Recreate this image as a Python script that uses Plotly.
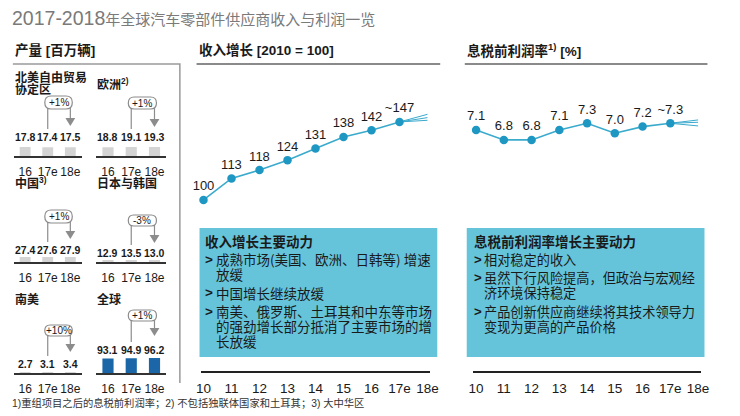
import plotly.graph_objects as go

W, H = 740, 416
def fx(x): return x / W
def fy(y): return 1 - y / H

# ---------------- data ----------------
title_digits = "2017-2018"
title_cjk = "年全球汽车零部件供应商收入与利润一览"
prod_title = "产量 [百万辆]"
prod_years = ["16", "17e", "18e"]
region_names = [["北美自由贸易", "协定区"], ["欧洲<sup>2)</sup>"], ["中国<sup>3)</sup>"],
                ["日本与韩国"], ["南美"], ["全球"]]
nafta_prod = [17.8, 17.4, 17.5]
europe_prod = [18.8, 19.1, 19.3]
china_prod = [27.4, 27.6, 27.9]
japan_korea_prod = [12.9, 13.5, 13.0]
south_america_prod = [2.7, 3.1, 3.4]
global_prod = [93.1, 94.9, 96.2]
region_growth = ["+1%", "+1%", "+1%", "-3%", "+10%", "+1%"]

years = ["10", "11", "12", "13", "14", "15", "16", "17e", "18e"]
revenue_title = "收入增长 [2010 = 100]"
revenue_index = [100, 113, 118, 124, 131, 138, 142, 147]
revenue_labels = ["100", "113", "118", "124", "131", "138", "142", "~147"]
revenue_fan_18e = [151.6, 149.6, 148.0]
ebit_title = "息税前利润率<sup>1)</sup> [%]"
ebit_margin = [7.1, 6.8, 6.8, 7.1, 7.3, 7.0, 7.2, 7.3]
ebit_labels = ["7.1", "6.8", "6.8", "7.1", "7.3", "7.0", "7.2", "~7.3"]
ebit_fan_18e = [7.40, 7.33, 7.22]

revenue_drivers_title = "收入增长主要动力"
revenue_drivers = [["成熟市场(美国、欧洲、日韩等) 增速", "放缓"],
                   ["中国增长继续放缓"],
                   ["南美、俄罗斯、土耳其和中东等市场", "的强劲增长部分抵消了主要市场的增", "长放缓"]]
ebit_drivers_title = "息税前利润率增长主要动力"
ebit_drivers = [["相对稳定的收入"],
                ["虽然下行风险提高，但政治与宏观经", "济环境保持稳定"],
                ["产品创新供应商继续将其技术领导力", "变现为更高的产品价格"]]
footnote = "1)重组项目之后的息税前利润率；2) 不包括独联体国家和土耳其；3) 大中华区"

# ---------------- styles ----------------
CJK = "Noto Sans CJK SC"
LAT = "Liberation Sans, Noto Sans CJK SC"
TXT = "#1a1a1a"
GRAY = "#8c8c8c"
LINE_C = "#3aaacd"
MARK_C = "#1f97c3"
BOX_C = "#65c4da"

fig = go.Figure()
layout = dict(width=W, height=H, margin=dict(l=0, r=0, t=0, b=0),
              paper_bgcolor="white", plot_bgcolor="rgba(0,0,0,0)", showlegend=False)
ann = []
shapes = []

def text(x, y, t, size, color=TXT, family=CJK, bold=False, xanchor="left", yanchor="middle"):
    ann.append(dict(x=fx(x), y=fy(y), xref="paper", yref="paper", text=(f"<b>{t}</b>" if bold else t),
                    showarrow=False, xanchor=xanchor, yanchor=yanchor,
                    font=dict(size=size, color=color, family=family)))

def pline(pts, color, width):
    d = "M " + " L ".join(f"{fx(a)},{fy(b)}" for a, b in pts)
    shapes.append(dict(type="path", path=d, xref="paper", yref="paper",
                       line=dict(color=color, width=width)))

# title
ann.append(dict(x=fx(5), y=fy(18), xref="paper", yref="paper", showarrow=False, xanchor="left",
                yanchor="middle",
                text=f"<span style='font-size:19.5px'>{title_digits}</span>{title_cjk}",
                font=dict(size=15, color="#7a7a7a", family=LAT)))

# production panel
text(8, 50, prod_title, 13.5, family=LAT, bold=True)
pline([(8, 64), (178, 64), (178, 383)], "#9a9a9a", 1.5)

prod_values = [nafta_prod, europe_prod, china_prod, japan_korea_prod, south_america_prod, global_prod]
# per-panel geometry (pixels): col, baseline, label y, bubble top, bubble bottom, arrow tip, bar px, colour, name y
panel_geo = [
    (0, 156, 137, 96, 109, 126, 9, "#d4d4d4", [77, 89]),
    (1, 156, 137, 97, 109, 127, 9, "#d4d4d4", [84]),
    (0, 262, 250, 210, 223, 239, 5, "#d4d4d4", [183]),
    (1, 262, 253, 215, 226, 243, 1.5, "#d4d4d4", [183]),
    (0, 373, 364, 325, 336, 352, 1, "#d4d4d4", [299]),
    (1, 373, 350, 310, 321, 336, 15, "#1a66a6", [299]),
]
for k, (vals, geo) in enumerate(zip(prod_values, panel_geo), start=1):
    col, base, lab_y, b_top, b_bot, tip, bar_px, colr, name_ys = geo
    x0, x1 = (9, 78) if col == 0 else (93, 164)
    dom_h = 25
    layout[f"xaxis{k}"] = dict(domain=[fx(x0), fx(x1)], range=[-0.5, 2.5], anchor=f"y{k}",
                               showline=True, linecolor="#333", linewidth=1.5, ticks="",
                               tickvals=[0, 1, 2], ticktext=prod_years, showgrid=False, zeroline=False,
                               ticklabelstandoff=4,
                               tickfont=dict(size=12, color=TXT, family=LAT))
    layout[f"yaxis{k}"] = dict(domain=[fy(base), fy(base - dom_h)], range=[0, max(vals) * dom_h / bar_px],
                               visible=False, anchor=f"x{k}")
    fig.add_trace(go.Bar(x=[0, 1, 2], y=vals, width=0.48, marker=dict(color=colr, line=dict(width=0)),
                         xaxis=f"x{k}", yaxis=f"y{k}", hoverinfo="skip"))
    for i, v in enumerate(vals):
        ann.append(dict(x=i, y=fy(lab_y), xref=f"x{k}", yref="paper", text=f"<b>{v:.1f}</b>",
                        showarrow=False, xanchor="center", yanchor="middle",
                        font=dict(size=10.5, color=TXT, family=LAT)))
    for j, ny in enumerate(name_ys):
        text(x0 - 1, ny, region_names[k - 1][j], 12, bold=True, family=LAT)
    # growth bubble
    step = (x1 - x0) / 3
    c1 = x0 + 1.5 * step
    c2 = x0 + 2.5 * step
    bl, br = c1 - 3, c2 + 2
    r = (b_bot - b_top) / 2
    d = (f"M {fx(bl + r)},{fy(b_top)} L {fx(br - r)},{fy(b_top)} "
         f"Q {fx(br)},{fy(b_top)} {fx(br)},{fy(b_top + r)} Q {fx(br)},{fy(b_bot)} {fx(br - r)},{fy(b_bot)} "
         f"L {fx(bl + r)},{fy(b_bot)} Q {fx(bl)},{fy(b_bot)} {fx(bl)},{fy(b_top + r)} "
         f"Q {fx(bl)},{fy(b_top)} {fx(bl + r)},{fy(b_top)} Z")
    shapes.append(dict(type="path", path=d, xref="paper", yref="paper", line=dict(color=GRAY, width=1.2),
                       fillcolor="white"))
    pline([(c1, b_bot - 1), (c1, lab_y - 8)], GRAY, 1.2)
    pline([(c2, b_bot - 1), (c2, tip - 7)], GRAY, 1.2)
    tri = f"M {fx(c2 - 5)},{fy(tip - 8)} L {fx(c2 + 5)},{fy(tip - 8)} L {fx(c2)},{fy(tip)} Z"
    shapes.append(dict(type="path", path=tri, xref="paper", yref="paper", line=dict(width=0),
                       fillcolor=GRAY))
    text((bl + br) / 2, (b_top + b_bot) / 2, region_growth[k - 1], 10, family=LAT, xanchor="center")

# line charts
def line_chart(k, xdom, ydom_rng, vals, labels, fan, title, tx, ux):
    layout[f"xaxis{k}"] = dict(domain=[fx(xdom[0]), fx(xdom[1])], range=[-0.1, 8.1], anchor=f"y{k}",
                               showline=True, linecolor="#222", linewidth=1.5, ticks="",
                               tickvals=list(range(len(years))), ticktext=years, showgrid=False,
                               zeroline=False, ticklabelstandoff=4,
                               tickfont=dict(size=13.5, color=TXT, family=LAT))
    layout[f"yaxis{k}"] = dict(domain=[fy(371), fy(64)], range=ydom_rng, visible=False, anchor=f"x{k}")
    n = len(vals)
    for f in fan:
        fig.add_trace(go.Scatter(x=[n - 1, n], y=[vals[-1], f], mode="lines",
                                 line=dict(color=LINE_C, width=1), xaxis=f"x{k}", yaxis=f"y{k}",
                                 hoverinfo="skip"))
    fig.add_trace(go.Scatter(x=list(range(n)), y=vals, mode="lines+markers+text", text=labels,
                             textposition="top center", cliponaxis=False,
                             textfont=dict(size=13, color=TXT, family=LAT),
                             line=dict(color=LINE_C, width=1.6),
                             marker=dict(color=MARK_C, size=8.5),
                             xaxis=f"x{k}", yaxis=f"y{k}", hoverinfo="skip"))
    text(tx, 50, title, 13.5, family=LAT, bold=True)
    pline([(tx, 64), (ux, 64)], "#8a8a8a", 2)

line_chart(7, (199.2, 432.9), [-3.0, 181.9], revenue_index, revenue_labels, revenue_fan_18e,
           revenue_title, 195, 443)
line_chart(8, (476.7, 708.3), [-0.14, 9.08], ebit_margin, ebit_labels, ebit_fan_18e,
           ebit_title, 468, 715)

# driver boxes
def driver_box(x0, x1, title, paras, lh, pstep, bx, tx2, fs):
    shapes.append(dict(type="rect", x0=fx(x0), x1=fx(x1), y0=fy(357), y1=fy(228), xref="paper",
                       yref="paper", fillcolor=BOX_C, line=dict(width=0), layer="below"))
    text(bx, 241, title, 13.5, bold=True)
    y = 259
    for p in paras:
        text(bx, y, "<b>&gt;</b>", fs, family=LAT)
        for j, ln in enumerate(p):
            text(tx2, y, ln, fs)
            if j < len(p) - 1:
                y += lh
        y += pstep

driver_box(198, 440, revenue_drivers_title, revenue_drivers, 15, 18.5, 202, 213, 13.5)
driver_box(470, 712, ebit_drivers_title, ebit_drivers, 15, 18.5, 475, 486, 13.2)

text(5, 403, footnote, 10.3, color="#333", family=LAT)

layout["annotations"] = ann
layout["shapes"] = shapes
fig.update_layout(**layout)
fig.write_html("out.html", config={"displayModeBar": False},
               post_script="document.body.style.margin='0';document.body.style.padding='0';")
